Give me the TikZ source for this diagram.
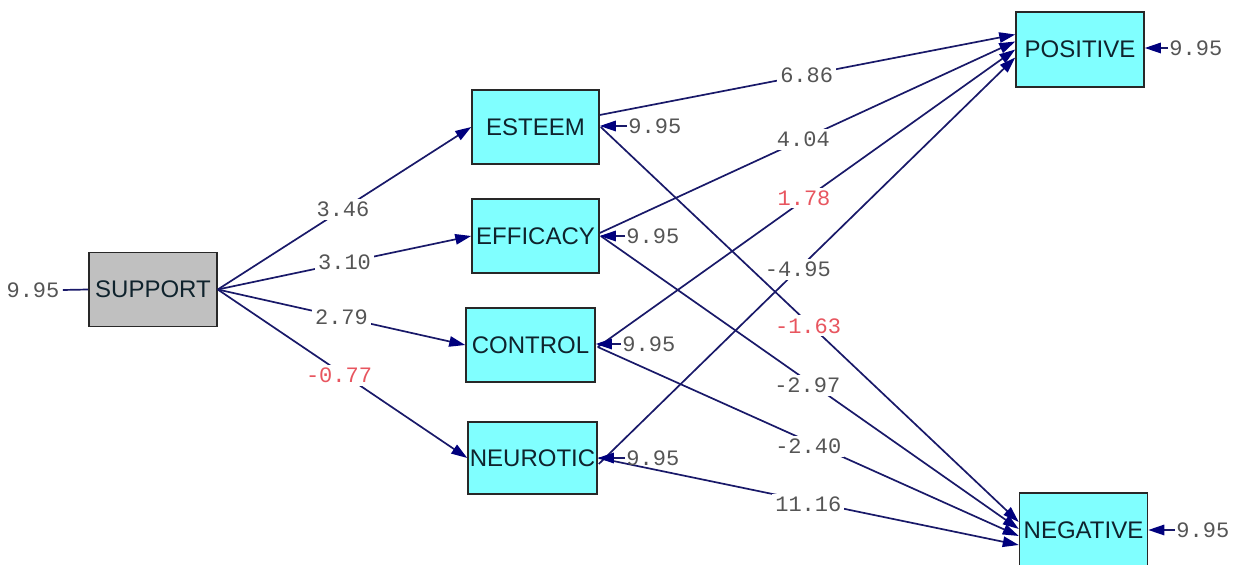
\documentclass[tikz,border=0pt]{standalone}
\usepackage{fontspec}
\setmainfont{Liberation Sans}
\newfontfamily\lblfont{Liberation Mono}
\usetikzlibrary{arrows.meta,calc}
\definecolor{boxcyan}{RGB}{128,255,255}
\definecolor{boxgray}{RGB}{192,192,192}
\definecolor{navyline}{RGB}{25,25,105}
\definecolor{navytip}{RGB}{0,0,125}
\definecolor{lblgray}{RGB}{85,85,85}
\definecolor{lblred}{RGB}{232,85,95}
\definecolor{boxtext}{RGB}{15,35,45}
\definecolor{boxline}{RGB}{40,40,40}
\begin{document}
\begin{tikzpicture}[x=0.5pt,y=-0.5pt,
  var/.style={draw=boxline,line width=0.75pt,fill=boxcyan,minimum width=64pt,
    minimum height=37pt,inner sep=0pt,font=\fontsize{12}{14}\selectfont,text=boxtext},
  exo/.style={var,fill=boxgray},
  edge/.style={draw=navyline,line width=0.85pt,
    -{Triangle[length=8pt,width=5.2pt,fill=navytip,color=navytip]}},
  resarrow/.style={edge},
  lbl/.style={fill=white,inner sep=1.5pt,font=\lblfont\fontsize{11}{12}\selectfont,text=lblgray},
  neg/.style={lbl,text=lblred},
  reslbl/.style={inner sep=0.5pt,anchor=west,font=\lblfont\fontsize{11}{12}\selectfont,text=lblgray}
]
\useasboundingbox (0,0) rectangle (1236,565);

% nodes
\node[exo] (support) at (153,289.5) {SUPPORT};
\node[var,minimum width=63.5pt] (esteem) at (535.5,127) {ESTEEM};
\node[var,minimum width=63.5pt] (efficacy) at (535.5,236) {EFFICACY};
\node[var,minimum width=64.5pt] (control) at (530.5,345) {CONTROL};
\node[var,minimum width=64.5pt,minimum height=36pt] (neurotic) at (532.5,458) {NEUROTIC};
\node[var,minimum height=37.5pt] (positive) at (1080,49.5) {POSITIVE};
\node[var] (negative) at (1083.5,530) {NEGATIVE};

% support paths
\draw[edge] (support.east) -- node[lbl,pos=0.494]{3.46} (esteem.west);
\draw[edge] (support.east) -- node[lbl,pos=0.50]{3.10} (efficacy.west);
\draw[edge] (support.east) -- node[lbl,pos=0.50]{2.79} (control.west);
\draw[edge] (support.east) -- node[neg,pos=0.486,yshift=-2pt]{-0.77} (neurotic.west);

% to POSITIVE
\draw[edge] ($(esteem.east)+(0,-12)$) -- node[lbl,pos=0.498]{6.86} ($(positive.west)+(0,-15)$);
\draw[edge] ($(efficacy.east)+(0,-3)$) -- node[lbl,pos=0.49]{4.04} ($(positive.west)+(0,-8)$);
\draw[edge] ($(control.east)+(2,2)$) -- node[neg,pos=0.494,yshift=1pt]{1.78} ($(positive.west)+(0,0)$);
\draw[edge] ($(neurotic.east)+(1,6)$) -- node[lbl,pos=0.478]{-4.95} ($(positive.west)+(0,8)$);

% to NEGATIVE
\draw[edge] ($(esteem.east)+(1,0)$) -- node[neg,pos=0.496,yshift=-1.5pt]{-1.63} ($(negative.west)+(0,-8)$);
\draw[edge] ($(efficacy.east)+(1,0)$) -- node[lbl,pos=0.494,yshift=-2.5pt]{-2.97} ($(negative.west)+(0,-1)$);
\draw[edge] ($(control.east)+(2,2)$) -- node[lbl,pos=0.50,yshift=-2.5pt]{-2.40} ($(negative.west)+(0,6)$);
\draw[edge] ($(neurotic.east)+(1,0)$) -- node[lbl,pos=0.499,yshift=-1.5pt]{11.16} ($(negative.west)+(0,15)$);

% residuals
\node[reslbl] (rest) at (627,126) {9.95};
\node[reslbl] (reff) at (625,236) {9.95};
\node[reslbl] (rcon) at (621,344) {9.95};
\node[reslbl] (rneu) at (625,458) {9.95};
\node[reslbl] (rpos) at (1168,48) {9.95};
\node[reslbl] (rneg) at (1175,530) {9.95};
\draw[resarrow] (rest.west) -- (rest.west -| esteem.east);
\draw[resarrow] (reff.west) -- (reff.west -| efficacy.east);
\draw[resarrow] (rcon.west) -- (rcon.west -| control.east);
\draw[resarrow] (rneu.west) -- (rneu.west -| neurotic.east);
\draw[resarrow] (rpos.west) -- (rpos.west -| positive.east);
\draw[resarrow] (rneg.west) -- (rneg.west -| negative.east);

\node[reslbl,anchor=center] (rsup) at (33,290) {9.95};
\draw[draw=navyline,line width=0.85pt] ($(rsup.east)+(2,0)$) -- (support.west);
\end{tikzpicture}
\end{document}
